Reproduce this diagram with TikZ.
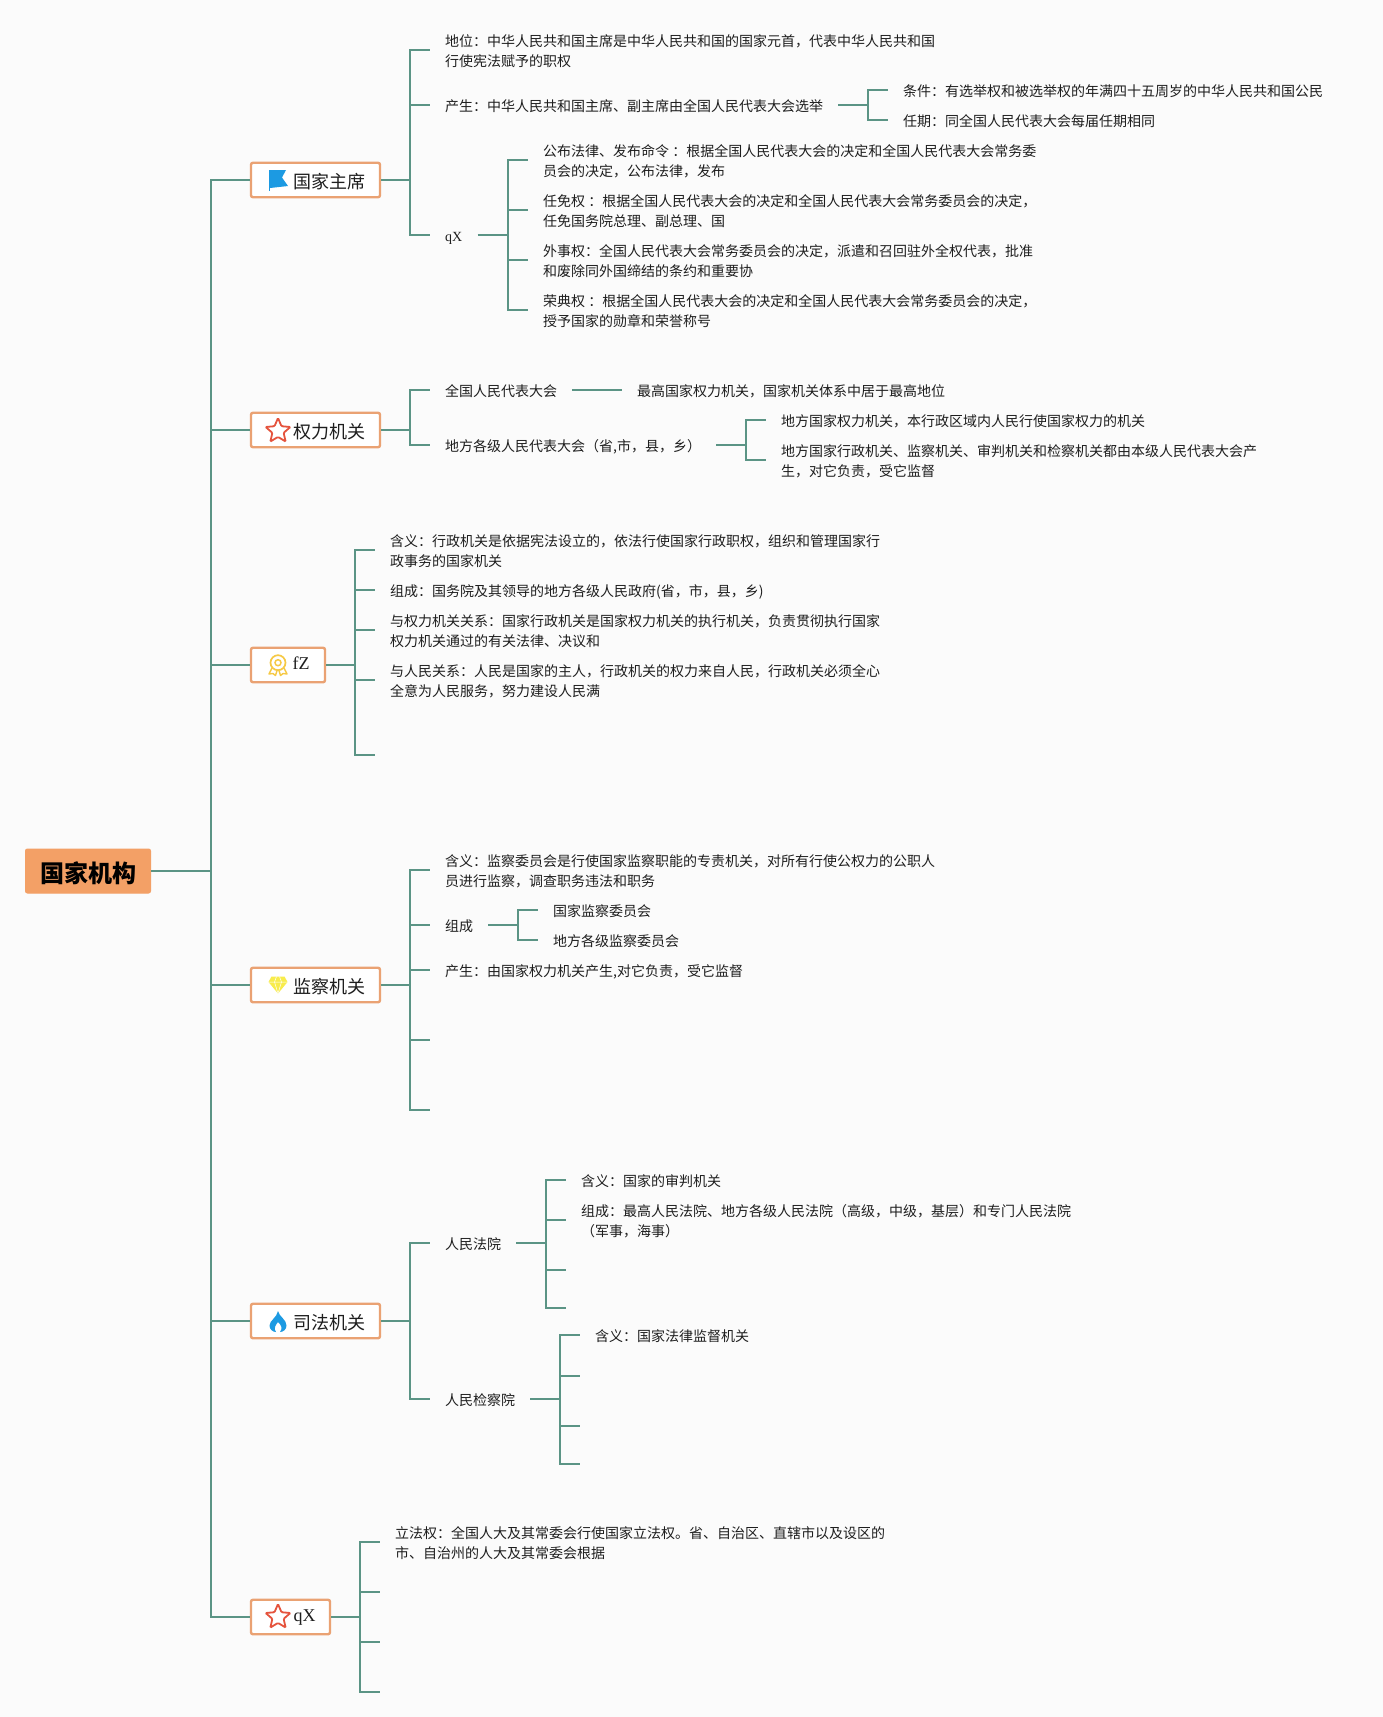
\documentclass[tikz,border=0pt]{standalone}
\usepackage{fontspec}
\setmainfont{Noto Sans CJK SC}
\newfontfamily\serifpart{Liberation Serif}
\usetikzlibrary{shapes.geometric}
\definecolor{pagecolor}{HTML}{FBFBFB}
\definecolor{branchcolor}{HTML}{5B9485}
\definecolor{boxcolor}{HTML}{EAA273}
\definecolor{rootcolor}{HTML}{F3A066}
\definecolor{inkcolor}{HTML}{1E1E1E}
\definecolor{blueicon}{HTML}{1C9AE2}
\definecolor{redicon}{HTML}{E5533D}
\definecolor{goldicon}{HTML}{F6C945}
\definecolor{yellowicon}{HTML}{F8EC4C}
\tikzset{
	branch/.style={draw=branchcolor,line width=2.2pt},
	rootbox/.style={rectangle,rounded corners=2pt,fill=rootcolor,draw=rootcolor,line width=1pt,minimum width=125pt,minimum height=44pt,inner sep=0pt,text depth=3pt,text height=25pt,text=black,font=\fontsize{24}{28}\selectfont\bfseries},
	topic/.style={rectangle,rounded corners=2pt,fill=white,draw=boxcolor,line width=2.4pt,minimum height=34.5pt,inner sep=0pt,text depth=3pt,text height=20pt,text=inkcolor,font=\fontsize{18}{22}\selectfont},
	topiclatin/.style={topic,text height=12.2pt,font=\fontsize{18}{22}\selectfont\serifpart},
	leaf/.style={anchor=west,inner xsep=15pt,inner ysep=0pt,align=left,text=inkcolor,text depth=2pt,font=\fontsize{14}{20}\selectfont,execute at begin node={\rule{0pt}{14pt}}},
	leaftwo/.style={leaf,text height=34.4pt},
	staricon/.style={star,star points=5,star point ratio=2.2,minimum size=26pt,inner sep=0pt,draw=redicon,line width=1.8pt,rounded corners=1pt},
	flagicon/.pic={
		\fill [blueicon] (-9,-10) -- (8,-10) -- (4,-2.5) -- (10,6) -- (-8,8) -- cycle;
		\draw [blueicon,line width=1pt] (-9,-10) -- (-9,11);
	},
	medalicon/.pic={
		\draw [goldicon,line width=1.7pt] (0,-2.3) circle (7.5);
		\draw [goldicon,line width=1.5pt] (0,-2.3) circle (3);
		\draw [goldicon,line width=1.4pt,line join=round] (-6,3) -- (-9,9) -- (-5,8.5) -- (-2.5,10.5) -- (-1,5.5);
		\draw [goldicon,line width=1.4pt,line join=round] (6,3) -- (9,9) -- (5,8.5) -- (2.5,10.5) -- (1,5.5);
	},
	gemicon/.pic={
		\fill [yellowicon] (-6.5,-8.5) -- (6.5,-8.5) -- (9.5,-3) -- (0,8.5) -- (-9.5,-3) -- cycle;
		\draw [white,line width=0.5pt] (-9.5,-3) -- (9.5,-3) (-3.5,-3) -- (0,8.5) -- (3.5,-3) (-3.5,-3) -- (-1.5,-8.5) (3.5,-3) -- (1.5,-8.5);
	},
	flameicon/.pic={
		\fill [blueicon] (0,-10.5) .. controls (1,-5) and (8.5,-2) .. (8.5,4) .. controls (8.5,8) and (5,10.5) .. (2,10.5) .. controls (5,7) and (3,3) .. (0,0.5) .. controls (-2,3) and (-5,7) .. (-2,10.5) .. controls (-5,10.5) and (-8.5,8) .. (-8.5,4) .. controls (-8.5,-1) and (-1,-4) .. (0,-10.5);
	}
}
\begin{document}
\begin{tikzpicture}[x=1pt,y=-1pt]
	\fill [pagecolor] (0,0) rectangle (1383,1717);
	\coordinate (rootfork) at (211,871);
	\coordinate (zhuxifork) at (410,180);
	\coordinate (electfork) at (868,105);
	\coordinate (powerfork) at (508,235);
	\coordinate (quanlifork) at (410,430);
	\coordinate (localfork) at (746,445);
	\coordinate (xingzhengfork) at (355,665);
	\coordinate (jianchafork) at (410,985);
	\coordinate (groupfork) at (518,925);
	\coordinate (sifafork) at (410,1321);
	\coordinate (courtfork) at (546,1243);
	\coordinate (procfork) at (560,1399);
	\coordinate (lifafork) at (360,1617);
	\coordinate (xingzhengend) at (375,755);
	\coordinate (jianchaenda) at (430,1040);
	\coordinate (jianchaendb) at (430,1110);
	\coordinate (courtenda) at (566,1270);
	\coordinate (courtendb) at (566,1308);
	\coordinate (procenda) at (580,1376);
	\coordinate (procendb) at (580,1426);
	\coordinate (procendc) at (580,1464);
	\coordinate (lifaenda) at (380,1592);
	\coordinate (lifaendb) at (380,1642);
	\coordinate (lifaendc) at (380,1692);

	\node [rootbox] (root) at (88,871) {国家机构};
	\node [topic,minimum width=129pt] (zhuxi) at (315.5,180) {\hspace*{27pt}国家主席};
	\node [topic,minimum width=129pt] (quanli) at (315.5,430) {\hspace*{27pt}权力机关};
	\node [topiclatin,minimum width=74pt] (xingzheng) at (288,665) {\hspace*{26pt}fZ};
	\node [topic,minimum width=129pt] (jiancha) at (315.5,985) {\hspace*{27pt}监察机关};
	\node [topic,minimum width=129pt] (sifa) at (315.5,1321) {\hspace*{27pt}司法机关};
	\node [topiclatin,minimum width=79pt] (lifa) at (290.5,1617) {\hspace*{28pt}qX};

	\path (278,180) pic {flagicon};
	\node [staricon] (stara) at (278,431) {};
	\path (278,665) pic {medalicon};
	\path (278,985) pic {gemicon};
	\path (278,1321.5) pic {flameicon};
	\node [staricon] (starb) at (278,1617) {};

	\node [leaftwo] (status) at (430,50) {地位：中华人民共和国主席是中华人民共和国的国家元首，代表中华人民共和国\\行使宪法赋予的职权};
	\node [leaf] (elect) at (430,105) {产生：中华人民共和国主席、副主席由全国人民代表大会选举};
	\node [leaf] (cond) at (888,90) {条件：有选举权和被选举权的年满四十五周岁的中华人民共和国公民};
	\node [leaf] (term) at (888,120) {任期：同全国人民代表大会每届任期相同};
	\node [leaf,font=\fontsize{14}{20}\selectfont\serifpart] (power) at (430,235) {qX};
	\node [leaftwo] (powera) at (528,160) {公布法律、发布命令 ：根据全国人民代表大会的决定和全国人民代表大会常务委\\员会的决定，公布法律，发布};
	\node [leaftwo] (powerb) at (528,210) {任免权 ：根据全国人民代表大会的决定和全国人民代表大会常务委员会的决定，\\任免国务院总理、副总理、国};
	\node [leaftwo] (powerc) at (528,260) {外事权：全国人民代表大会常务委员会的决定，派遣和召回驻外全权代表，批准\\和废除同外国缔结的条约和重要协};
	\node [leaftwo] (powerd) at (528,310) {荣典权 ：根据全国人民代表大会的决定和全国人民代表大会常务委员会的决定，\\授予国家的勋章和荣誉称号};

	\node [leaf] (npc) at (430,390) {全国人民代表大会};
	\node [leaf] (npcnote) at (622,390) {最高国家权力机关，国家机关体系中居于最高地位};
	\node [leaf] (local) at (430,445) {地方各级人民代表大会（省,市，县，乡）};
	\node [leaf] (locala) at (766,420) {地方国家权力机关，本行政区域内人民行使国家权力的机关};
	\node [leaftwo] (localb) at (766,460) {地方国家行政机关、监察机关、审判机关和检察机关都由本级人民代表大会产\\生，对它负责，受它监督};

	\node [leaftwo] (xza) at (375,550) {含义：行政机关是依据宪法设立的，依法行使国家行政职权，组织和管理国家行\\政事务的国家机关};
	\node [leaf] (xzb) at (375,590) {组成：国务院及其领导的地方各级人民政府(省，市，县，乡)};
	\node [leaftwo] (xzc) at (375,630) {与权力机关关系：国家行政机关是国家权力机关的执行机关，负责贯彻执行国家\\权力机关通过的有关法律、决议和};
	\node [leaftwo] (xzd) at (375,680) {与人民关系：人民是国家的主人，行政机关的权力来自人民，行政机关必须全心\\全意为人民服务，努力建设人民满};

	\node [leaftwo] (jca) at (430,870) {含义：监察委员会是行使国家监察职能的专责机关，对所有行使公权力的公职人\\员进行监察，调查职务违法和职务};
	\node [leaf] (group) at (430,925) {组成};
	\node [leaf] (groupa) at (538,910) {国家监察委员会};
	\node [leaf] (groupb) at (538,940) {地方各级监察委员会};
	\node [leaf] (jcc) at (430,970) {产生：由国家权力机关产生,对它负责，受它监督};

	\node [leaf] (court) at (430,1243) {人民法院};
	\node [leaf] (courta) at (566,1180) {含义：国家的审判机关};
	\node [leaftwo] (courtb) at (566,1220) {组成：最高人民法院、地方各级人民法院（高级，中级，基层）和专门人民法院\\（军事，海事）};
	\node [leaf] (proc) at (430,1399) {人民检察院};
	\node [leaf] (proca) at (580,1335) {含义：国家法律监督机关};
	\node [leaftwo] (lifaa) at (380,1542) {立法权：全国人大及其常委会行使国家立法权。省、自治区、直辖市以及设区的\\市、自治州的人大及其常委会根据};

	\draw [branch] (root) -- (rootfork);
	\draw [branch] (rootfork) |- (zhuxi.west);
	\draw [branch] (rootfork) |- (quanli.west);
	\draw [branch] (rootfork) |- (xingzheng.west);
	\draw [branch] (rootfork) |- (jiancha.west);
	\draw [branch] (rootfork) |- (sifa.west);
	\draw [branch] (rootfork) |- (lifa.west);

	\draw [branch] (zhuxi) -- (zhuxifork);
	\draw [branch] (zhuxifork) |- (status.west);
	\draw [branch] (zhuxifork) |- (elect.west);
	\draw [branch] (zhuxifork) |- (power.west);
	\draw [branch] (elect) -- (electfork);
	\draw [branch] (electfork) |- (cond.west);
	\draw [branch] (electfork) |- (term.west);
	\draw [branch] (power) -- (powerfork);
	\draw [branch] (powerfork) |- (powera.west);
	\draw [branch] (powerfork) |- (powerb.west);
	\draw [branch] (powerfork) |- (powerc.west);
	\draw [branch] (powerfork) |- (powerd.west);

	\draw [branch] (quanli) -- (quanlifork);
	\draw [branch] (quanlifork) |- (npc.west);
	\draw [branch] (quanlifork) |- (local.west);
	\draw [branch] (npc) -- (npcnote);
	\draw [branch] (local) -- (localfork);
	\draw [branch] (localfork) |- (locala.west);
	\draw [branch] (localfork) |- (localb.west);

	\draw [branch] (xingzheng) -- (xingzhengfork);
	\draw [branch] (xingzhengfork) |- (xza.west);
	\draw [branch] (xingzhengfork) |- (xzb.west);
	\draw [branch] (xingzhengfork) |- (xzc.west);
	\draw [branch] (xingzhengfork) |- (xzd.west);
	\draw [branch] (xingzhengfork) |- (xingzhengend);

	\draw [branch] (jiancha) -- (jianchafork);
	\draw [branch] (jianchafork) |- (jca.west);
	\draw [branch] (jianchafork) |- (group.west);
	\draw [branch] (jianchafork) |- (jcc.west);
	\draw [branch] (jianchafork) |- (jianchaenda);
	\draw [branch] (jianchafork) |- (jianchaendb);
	\draw [branch] (group) -- (groupfork);
	\draw [branch] (groupfork) |- (groupa.west);
	\draw [branch] (groupfork) |- (groupb.west);

	\draw [branch] (sifa) -- (sifafork);
	\draw [branch] (sifafork) |- (court.west);
	\draw [branch] (sifafork) |- (proc.west);
	\draw [branch] (court) -- (courtfork);
	\draw [branch] (courtfork) |- (courta.west);
	\draw [branch] (courtfork) |- (courtb.west);
	\draw [branch] (courtfork) |- (courtenda);
	\draw [branch] (courtfork) |- (courtendb);
	\draw [branch] (proc) -- (procfork);
	\draw [branch] (procfork) |- (proca.west);
	\draw [branch] (procfork) |- (procenda);
	\draw [branch] (procfork) |- (procendb);
	\draw [branch] (procfork) |- (procendc);

	\draw [branch] (lifa) -- (lifafork);
	\draw [branch] (lifafork) |- (lifaa.west);
	\draw [branch] (lifafork) |- (lifaenda);
	\draw [branch] (lifafork) |- (lifaendb);
	\draw [branch] (lifafork) |- (lifaendc);
\end{tikzpicture}
\end{document}
